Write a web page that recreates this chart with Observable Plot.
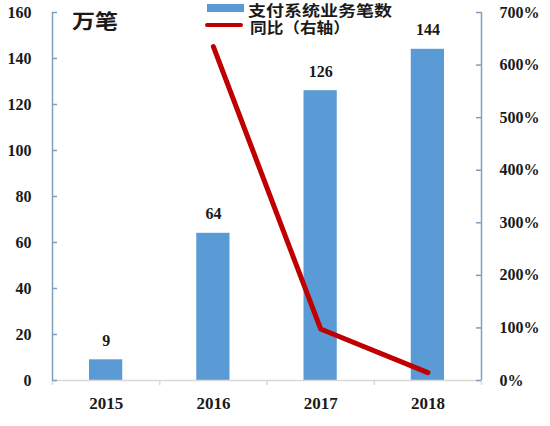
<!DOCTYPE html>
<html><head><meta charset="utf-8">
<script src="https://cdn.jsdelivr.net/npm/d3@7"></script>
<script src="https://cdn.jsdelivr.net/npm/@observablehq/plot@0.6"></script>
<style>
body{margin:0;background:#fff;}
#wrap{position:relative;width:550px;height:426px;overflow:hidden;}
.lab{position:absolute;font-family:"Noto Sans CJK SC","Noto Sans CJK JP",sans-serif;font-weight:bold;color:#1a1a1a;white-space:nowrap;transform-origin:0 50%;line-height:1;}
.sw{position:absolute;}
</style></head><body>
<div id="wrap"></div>
<script>
// ---- data ----
const years = [2015, 2016, 2017, 2018];
const volumes = [9, 64, 126, 144];        // 支付系统业务笔数（万笔）
const yoyPct = [null, 635, 98, 15];       // 同比（%，右轴）
const leftTicks = [0, 20, 40, 60, 80, 100, 120, 140, 160];
const rightTicks = [0, 100, 200, 300, 400, 500, 600, 700];
const seriesNames = ["支付系统业务笔数", "同比（右轴）"];
const unitLabel = "万笔";

const leftMax = 160, rightMax = 700;
const toLeft = p => p * leftMax / rightMax;

const data = years.map((year, i) => ({year, vol: volumes[i], yoy: yoyPct[i]}));
const lineData = data.filter(d => d.yoy != null);
const bounds = years.map(y => y - 0.5).concat([years[years.length - 1] + 0.5]);
const xMin = bounds[0], xMax = bounds[bounds.length - 1];

const axisColor = "#7f9fbf";
const serif = "'Liberation Serif', 'Times New Roman', serif";

const chart = Plot.plot({
  width: 550,
  height: 426,
  marginLeft: 52,
  marginRight: 69,
  marginTop: 12,
  marginBottom: 46,
  x: {domain: [xMin, xMax]},
  y: {domain: [0, leftMax]},
  style: {background: "white", overflow: "visible"},
  marks: [
    Plot.rectY(data, {x1: d => d.year - 0.155, x2: d => d.year + 0.155, y1: 0, y2: "vol", fill: "#5b9bd5"}),
    Plot.ruleY([0], {x1: xMin, x2: xMax, stroke: "#d9d9d9", strokeWidth: 1.5}),
    Plot.ruleX(bounds, {y1: 0, y2: -2.2, stroke: "#d9d9d9", strokeWidth: 1.5}),
    Plot.ruleX([xMin, xMax], {y1: 0, y2: leftMax, stroke: axisColor, strokeWidth: 1.5}),
    Plot.ruleY(leftTicks, {x1: xMin, x2: xMin + 0.047, stroke: axisColor, strokeWidth: 1.5}),
    Plot.ruleY(rightTicks.map(toLeft), {x1: xMax - 0.047, x2: xMax, stroke: axisColor, strokeWidth: 1.5}),
    Plot.line(lineData, {x: "year", y: d => toLeft(d.yoy), stroke: "#c00000", strokeWidth: 5, strokeLinecap: "round", strokeLinejoin: "round"}),
    Plot.text(data, {x: "year", y: "vol", text: d => String(d.vol), dy: -19, fontSize: 16, fontWeight: "bold", fontFamily: serif, fill: "#1a1a1a"}),
    Plot.axisY(leftTicks, {anchor: "left", tickSize: 0, tickPadding: 21, label: null, fontSize: 16, fontWeight: "bold", fontFamily: serif, fill: "#1a1a1a", tickFormat: d => String(d)}),
    Plot.axisY(rightTicks.map(toLeft), {anchor: "right", tickSize: 0, tickPadding: 18, label: null, fontSize: 16, fontWeight: "bold", fontFamily: serif, fill: "#1a1a1a", tickFormat: v => Math.round(v * rightMax / leftMax) + "%"}),
    Plot.axisX(years, {anchor: "bottom", tickSize: 0, tickPadding: 16, label: null, fontSize: 17, fontWeight: "bold", fontFamily: serif, fill: "#1a1a1a", tickFormat: d => String(d)})
  ]
});

const wrap = document.getElementById("wrap");
wrap.appendChild(chart);

function add(html, cls, style) {
  const el = document.createElement("div");
  el.className = cls;
  el.innerHTML = html;
  Object.assign(el.style, style);
  wrap.appendChild(el);
  return el;
}
// unit label
add(unitLabel, "lab", {left: "72px", top: "11px", fontSize: "20px", transform: "scaleX(1.15)"});
// legend
add("", "sw", {left: "207px", top: "4px", width: "37px", height: "8px", background: "#5b9bd5"});
add("", "sw", {left: "205px", top: "23px", width: "38px", height: "4px", background: "#c00000", borderRadius: "2px"});
add(seriesNames[0], "lab", {left: "248px", top: "2px", fontSize: "15px", transform: "scaleX(1.2)"});
add(seriesNames[1], "lab", {left: "250px", top: "19px", fontSize: "15px", transform: "scaleX(1.11)"});
</script>
</body></html>
